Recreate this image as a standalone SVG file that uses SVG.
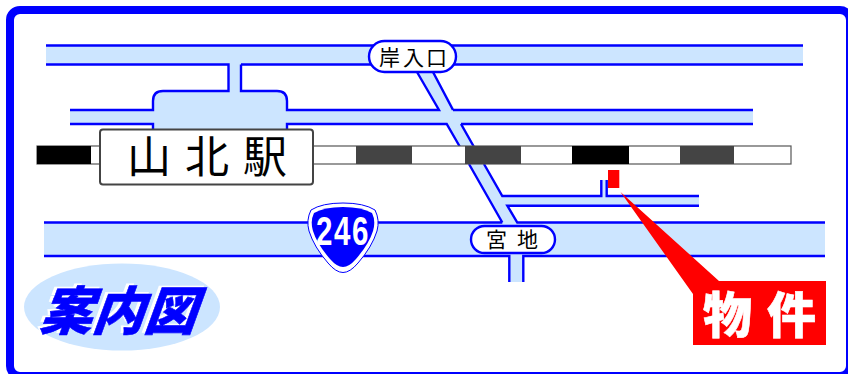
<svg xmlns="http://www.w3.org/2000/svg" width="848" height="374" viewBox="0 0 848 374">
<style>
.fill{fill:#cce5ff;stroke:none}
.line{fill:none;stroke:#0000ff;stroke-width:2.4}
.pill{fill:#fff;stroke:#0000ff;stroke-width:2.4}
.jp{font-family:"Noto Sans CJK JP","Noto Sans",sans-serif}
.rd{font-size:21px;fill:#000}
</style>
<rect id="frame" x="10" y="10" width="840" height="366" rx="10" fill="#fff" stroke="#0000ff" stroke-width="8"/>
<g id="roads">
<path class="fill" d="M46 45.500H803V64.500H241V91H277Q287 91 287 101V129H153V101Q153 91 163 91H228V64.500H46Z"/>
<path class="fill" d="M70 110H753V124H70Z"/>
<path class="fill" d="M601 180H607V196H699V206H507L518 223H825V256H523V282H509V256H44V223H502L417 70H433L502 196H601Z"/>
<path class="line" d="M46 45.500H803M46 64.500H228.500V91H163Q153 91 153 101V110H70M70 124H153V129M241 64.500V91H277Q287 91 287 101V110H439L417 72M241 64.500H803M287 129V124H446.700L460 147M453 110H753M461 124H753M433 72L453 110M461 124L474 147M469 164L502.300 222.500M484 164L502.300 196H601.300V180M606.700 180V196H699M699 205.700H507.300L517.300 222.500H825M44 222.500H502.300M44 256H509.300V282M523.300 282V256H825"/>
</g>
<g id="rail" stroke-width="1.2">
<rect x="37" y="146" width="754" height="18" fill="#fff" stroke="#555"/>
<rect x="37" y="146" width="54" height="18" fill="#000"/>
<rect x="356" y="146" width="56" height="18" fill="#444"/>
<rect x="465" y="146" width="56" height="18" fill="#444"/>
<rect x="572" y="146" width="57" height="18" fill="#000"/>
<rect x="680" y="146" width="54" height="18" fill="#444"/>
</g>
<g id="station">
<rect x="100" y="129.500" width="213" height="55" rx="3" fill="#fff" stroke="#444" stroke-width="2"/>
<text class="jp" x="127 185 243" y="173" font-size="44" font-weight="400" fill="#000">山北駅</text>
</g>
<g id="kishiiriguchi">
<rect class="pill" x="369" y="41" width="87" height="31" rx="15.500"/>
<text class="jp rd" x="379 403 426" y="65">岸入口</text>
</g>
<g id="miyaji">
<rect class="pill" x="471" y="226" width="84" height="27" rx="13.500"/>
<text class="jp rd" x="486 517" y="247">宮地</text>
</g>
<g id="route246">
<path d="M343 203Q364 203 375 210Q380 220 377 231Q372 247 358 263Q350 272.500 343 272.500Q336 272.500 328 263Q314 247 309 231Q306 220 311 210Q322 203 343 203Z" fill="#fff" stroke="#0000ff" stroke-width="1"/>
<path d="M343 207Q362 207 372 213Q376 221 373 231Q369 244 356 259Q349 267 343 267Q337 267 330 259Q317 244 313 231Q310 221 314 213Q324 207 343 207Z" fill="#0000ff"/>
<text transform="translate(316 245) scale(0.72 1)" x="0 25 50" y="0" font-family="Liberation Sans,sans-serif" font-weight="700" font-size="41" fill="#fff">246</text>
</g>
<g id="title">
<ellipse cx="122" cy="307" rx="98" ry="43.500" fill="#cce5ff"/>
<g class="jp" font-weight="900" font-size="52">
<text transform="translate(36 328) skewX(-20)" fill="#fff">案内図</text>
<text transform="translate(39 330) skewX(-20)" fill="#0000ff" stroke="#0000ff" stroke-width="0.6">案内図</text>
</g>
</g>
<g id="property">
<rect x="608" y="170" width="11.300" height="18" fill="#f00"/>
<path d="M620.500 192L719 281H826V345H693V294Z" fill="#f00"/>
<text class="jp" x="703 767" y="333" font-size="49" font-weight="900" fill="#fff" stroke="#fff" stroke-width="0.6">物件</text>
</g>
</svg>
